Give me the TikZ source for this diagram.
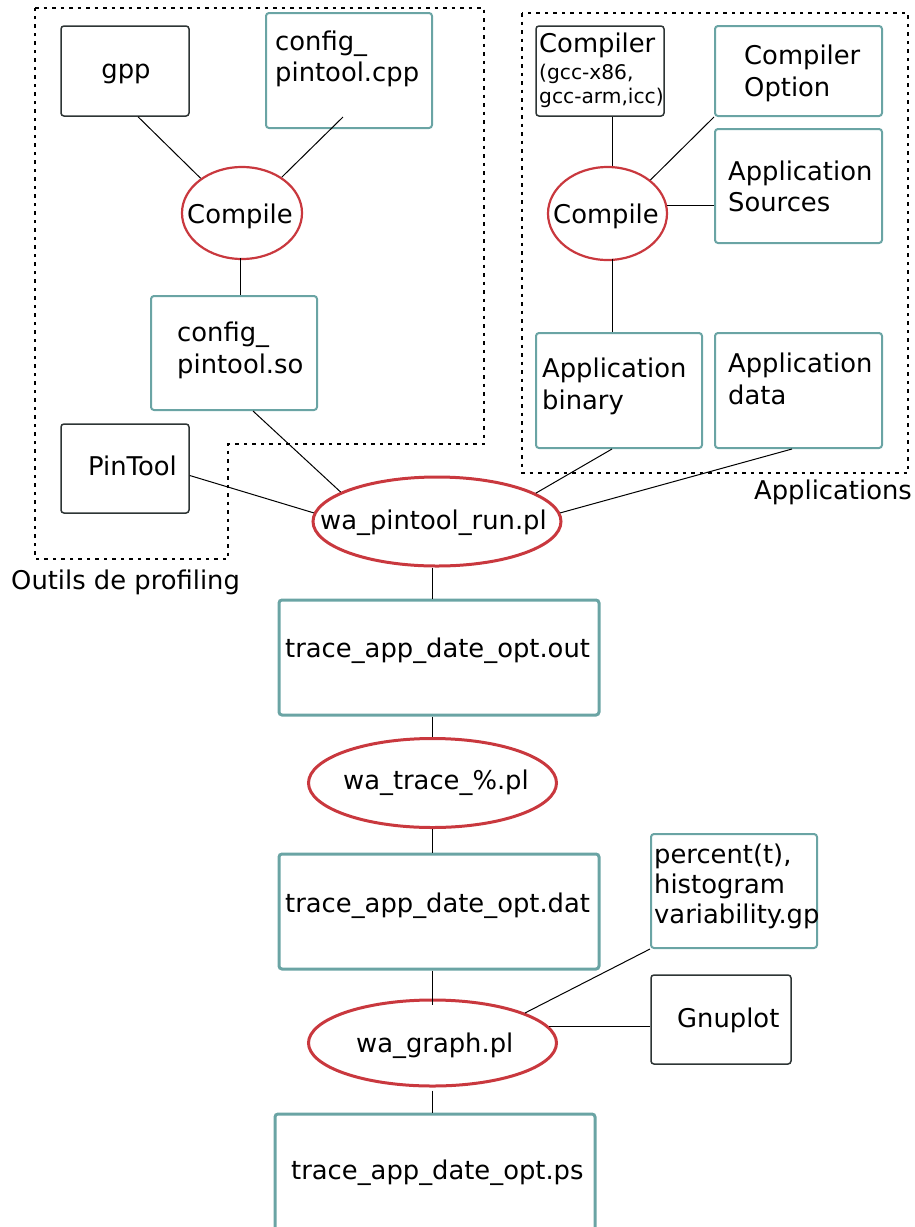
\documentclass[tikz,border=0pt]{standalone}
\usepackage{fontspec}
\setmainfont{DejaVu Sans}
\usetikzlibrary{shapes.geometric,fit}
\definecolor{tealb}{RGB}{106,164,164}
\definecolor{redb}{RGB}{201,56,62}
\definecolor{darkb}{RGB}{45,52,52}
\tikzset{
  tbox/.style={draw=tealb, line width=2pt, rounded corners=3pt, inner sep=0pt},
  tboxw/.style={tbox, line width=3pt},
  bbox/.style={draw=darkb, line width=1.5pt, rounded corners=3pt, inner sep=0pt},
  ell/.style={ellipse, draw=redb, line width=2.2pt, inner sep=0pt},
  ellw/.style={ell, line width=3pt},
  txt/.style={anchor=base west, inner sep=0pt, font=\fontsize{25.8}{30}\selectfont},
  ctxt/.style={txt, anchor=base},
  stxt/.style={anchor=base west, inner sep=0pt, font=\fontsize{20.2}{24}\selectfont},
  conn/.style={line width=1pt, black},
  dotbox/.style={line width=2pt, dash pattern=on 3.5pt off 5pt}
}
\begin{document}
\begin{tikzpicture}[x=1pt,y=-1pt]
\useasboundingbox (0,0) rectangle (915,1227);
% dotted regions
\draw[dotbox] (35,8) -- (484,8) -- (484,444) -- (228,444) -- (228,559) -- (35,559) -- cycle;
\draw[dotbox] (522,13) rectangle (908,473);
\node[txt] (lblOutils) at (11,589) {Outils de profiling};
\node[txt] (lblApps) at (754,499) {Applications};
% left group
\node[bbox, fit={(61,26) (189,116)}] (gpp) {};
\node[ctxt] (tgpp) at (126,78) {gpp};
\node[tbox, fit={(266,13) (432,128)}] (cpp) {};
\node[txt] (tcpp1) at (275,50) {config\_};
\node[txt] (tcpp2) at (275,81) {pintool.cpp};
\node[ell, minimum width=120pt, minimum height=92pt] (cL) at (242,213) {};
\node[ctxt] (tcL) at (240,223) {Compile};
\node[tbox, fit={(151,296) (317,410)}] (so) {};
\node[txt] (tso1) at (177,341) {config\_};
\node[txt] (tso2) at (177,373) {pintool.so};
\node[bbox, fit={(61,424) (189,513)}] (pin) {};
\node[txt] (tpin) at (88,475) {PinTool};
% right group
\node[bbox, fit={(536,26) (664,116)}] (comp) {};
\node[txt] (tcomp1) at (539,52) {Compiler};
\node[stxt] (tcomp2) at (539,79) {(gcc-x86,};
\node[stxt] (tcomp3) at (539,103) {gcc-arm,icc)};
\node[tbox, fit={(715,26) (882,116)}] (opt) {};
\node[txt] (topt1) at (744,64) {Compiler};
\node[txt] (topt2) at (744,96) {Option};
\node[tbox, fit={(715,129) (882,243)}] (src) {};
\node[txt] (tsrc1) at (728,180) {Application};
\node[txt] (tsrc2) at (728,211) {Sources};
\node[ell, minimum width=119pt, minimum height=93pt] (cR) at (607.5,213.5) {};
\node[ctxt] (tcR) at (606,223) {Compile};
\node[tbox, fit={(536,333) (702,448)}] (bin) {};
\node[txt] (tbin1) at (542,377) {Application};
\node[txt] (tbin2) at (542,409) {binary};
\node[tbox, fit={(715,333) (882,448)}] (dat0) {};
\node[txt] (tdat1) at (728,372) {Application};
\node[txt] (tdat2) at (728,404) {data};
% main chain
\node[ellw, minimum width=248pt, minimum height=89pt] (run) at (437,521.5) {};
\node[txt] (trun) at (320,529) {wa\_pintool\_run.pl};
\node[tboxw, fit={(279,600) (599,715)}] (out) {};
\node[txt] (tout) at (285,657) {trace\_app\_date\_opt.out};
\node[ellw, minimum width=248pt, minimum height=89pt] (tr) at (432.5,783) {};
\node[txt] (ttr) at (343,789) {wa\_trace\_\%.pl};
\node[tboxw, fit={(279,854) (599,969)}] (dat) {};
\node[txt] (tdat) at (285,912) {trace\_app\_date\_opt.dat};
\node[tbox, fit={(651,834) (817,948)}] (pct) {};
\node[txt] (tpct1) at (654,863) {percent(t),};
\node[txt] (tpct2) at (654,893) {histogram};
\node[txt] (tpct3) at (654,923) {variability.gp};
\node[bbox, fit={(651,975) (791,1064)}] (gnu) {};
\node[txt] (tgnu) at (677,1027) {Gnuplot};
\node[ellw, minimum width=248pt, minimum height=86pt] (gr) at (432.5,1043) {};
\node[txt] (tgr) at (356,1052) {wa\_graph.pl};
\node[tboxw, fit={(275,1114) (595,1240)}] (ps) {};
\node[txt] (tps) at (291,1179) {trace\_app\_date\_opt.ps};
% connectors
\draw[conn] ([xshift=13pt]gpp.south) -- (cL.140);
\draw[conn] ([xshift=-6pt,yshift=12pt]cpp.south) -- (cL.42);
\draw[conn] ([xshift=-2pt,yshift=2pt]cL.south) -- ([xshift=-2pt]cL.south |- so.north);
\draw[conn] ([xshift=19pt]so.south) -- (run.163);
\draw[conn] ([yshift=-7pt]pin.east) -- (run.176);
\draw[conn] ([xshift=12pt]comp.south) -- ([xshift=12pt]comp.south |- cR.north);
\draw[conn] (cR.38) -- (opt.south west);
\draw[conn] (cR.8) -- (cR.8 -| src.west);
\draw[conn] ([xshift=4.5pt,yshift=2pt]cR.south) -- ([xshift=4.5pt]cR.south |- bin.north);
\draw[conn] ([xshift=-7pt]bin.south) -- (run.16);
\draw[conn] ([xshift=-6.5pt]dat0.south) -- (run.4);
\draw[conn] (run.south -| tr.center) -- (out.north -| tr.center);
\draw[conn] (out.south -| tr.center) -- (tr.north);
\draw[conn] (tr.south) -- (dat.north -| tr.center);
\draw[conn] (dat.south -| gr.center) -- ([yshift=-6pt]gr.north);
\draw[conn] (pct.south west) -- (gr.18);
\draw[conn] (gr.8) -- (gr.8 -| gnu.west);
\draw[conn] ([yshift=-3pt]gr.south) -- (ps.north -| gr.center);
\end{tikzpicture}
\end{document}
